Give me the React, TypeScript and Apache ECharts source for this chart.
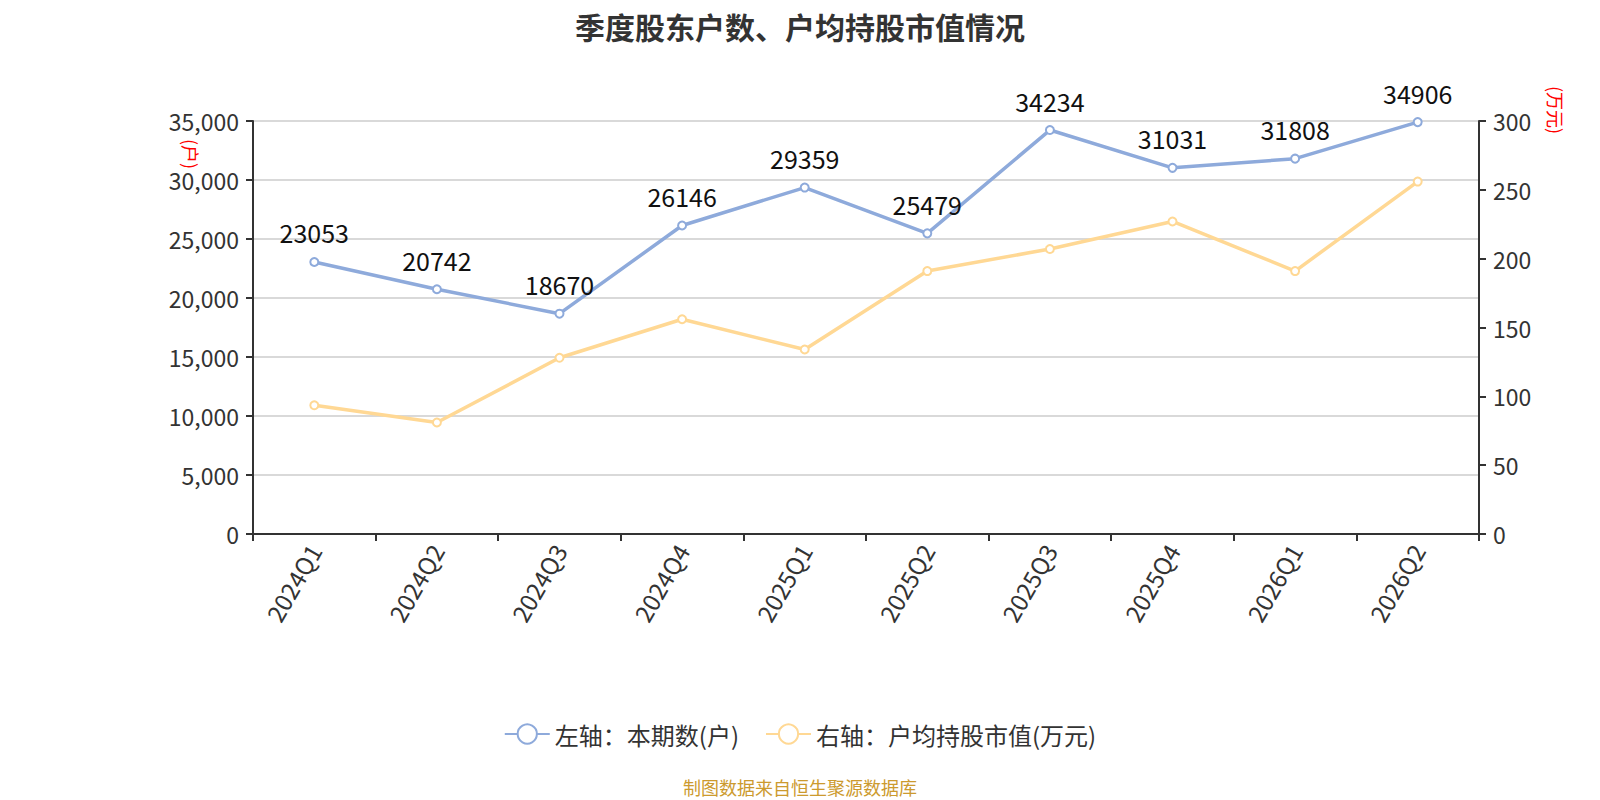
import React, { useEffect, useRef } from "react";
import * as echarts from "echarts";

const categories = ["2024Q1", "2024Q2", "2024Q3", "2024Q4", "2025Q1", "2025Q2", "2025Q3", "2025Q4", "2026Q1", "2026Q2"];
const holders = [23053, 20742, 18670, 26146, 29359, 25479, 34234, 31031, 31808, 34906];
const avgValue = [93.5, 81, 128, 156, 134, 191, 207, 227, 191, 256];
const leftName = "(户)";
const rightName = "(万元)";
const titleText = "季度股东户数、户均持股市值情况";
const footerText = "制图数据来自恒生聚源数据库";
const seriesNames = ["左轴：本期数(户)", "右轴：户均持股市值(万元)"];

const FONT = '"Noto Sans CJK SC", "Noto Sans", sans-serif';

export default function App() {
  const ref = useRef<HTMLDivElement>(null);
  useEffect(() => {
    document.body.style.margin = "0";
    if (!ref.current) return;
    const chart = echarts.init(ref.current, null, { renderer: "svg" });
    chart.setOption({
      animation: false,
      backgroundColor: "#fff",
      textStyle: { fontFamily: FONT },
      title: {
        text: titleText,
        left: "center",
        top: 6,
        textStyle: { fontSize: 30, fontWeight: "bold", color: "#333", fontFamily: FONT },
      },
      grid: { left: 253, right: 121, top: 121, bottom: 266, containLabel: false },
      legend: {
        bottom: 49,
        left: "center",
        itemWidth: 45,
        itemHeight: 24,
        itemGap: 26,
        textStyle: { fontSize: 24, color: "#333", fontFamily: FONT },
        data: seriesNames,
      },
      xAxis: {
        type: "category",
        data: categories,
        boundaryGap: true,
        axisLine: { lineStyle: { color: "#333", width: 2 } },
        axisTick: { show: true, length: 7, lineStyle: { color: "#333", width: 2 } },
        axisLabel: { rotate: 60, fontSize: 24, color: "#333", margin: 12, interval: 0, fontFamily: FONT },
        splitLine: { show: false },
      },
      yAxis: [
        {
          type: "value",
          min: 0,
          max: 35000,
          interval: 5000,
          axisLine: { show: true, lineStyle: { color: "#333", width: 2 } },
          axisTick: { show: true, length: 7, lineStyle: { color: "#333", width: 2 } },
          axisLabel: {
            fontSize: 23,
            color: "#333",
            margin: 14,
            fontFamily: FONT,
            formatter: (v: number) => v.toLocaleString("en-US"),
          },
          splitLine: { show: true, lineStyle: { color: "#ccc", width: 1.5 } },
        },
        {
          type: "value",
          min: 0,
          max: 300,
          interval: 50,
          axisLine: { show: true, lineStyle: { color: "#333", width: 2 } },
          axisTick: { show: true, length: 7, lineStyle: { color: "#333", width: 2 } },
          axisLabel: { fontSize: 23, color: "#333", margin: 14, fontFamily: FONT },
          splitLine: { show: false },
        },
      ],
      series: [
        {
          name: seriesNames[0],
          type: "line",
          yAxisIndex: 0,
          data: holders,
          symbol: "emptyCircle",
          symbolSize: 8,
          lineStyle: { color: "#8eaadb", width: 3.5 },
          itemStyle: { color: "#8eaadb", borderWidth: 2 },
          label: { show: true, position: "top", distance: 12, fontSize: 25, color: "#111", fontFamily: FONT },
        },
        {
          name: seriesNames[1],
          type: "line",
          yAxisIndex: 1,
          data: avgValue,
          symbol: "emptyCircle",
          symbolSize: 8,
          lineStyle: { color: "#ffd894", width: 3.5 },
          itemStyle: { color: "#ffd894", borderWidth: 2 },
          label: { show: false },
        },
      ],
      graphic: [
        {
          type: "text",
          x: 191,
          y: 154,
          rotation: -Math.PI / 2,
          style: { text: leftName, fill: "#f00", fontSize: 18, align: "center", verticalAlign: "middle", fontFamily: FONT },
        },
        {
          type: "text",
          x: 1556,
          y: 110,
          rotation: -Math.PI / 2,
          style: { text: rightName, fill: "#f00", fontSize: 18, align: "center", verticalAlign: "middle", fontFamily: FONT },
        },
        {
          type: "text",
          x: 800,
          y: 787,
          style: { text: footerText, fill: "#cc9a2e", fontSize: 18, align: "center", verticalAlign: "middle", fontFamily: FONT },
        },
      ],
    });
    return () => chart.dispose();
  }, []);
  return <div ref={ref} style={{ width: 1600, height: 800 }} />;
}
